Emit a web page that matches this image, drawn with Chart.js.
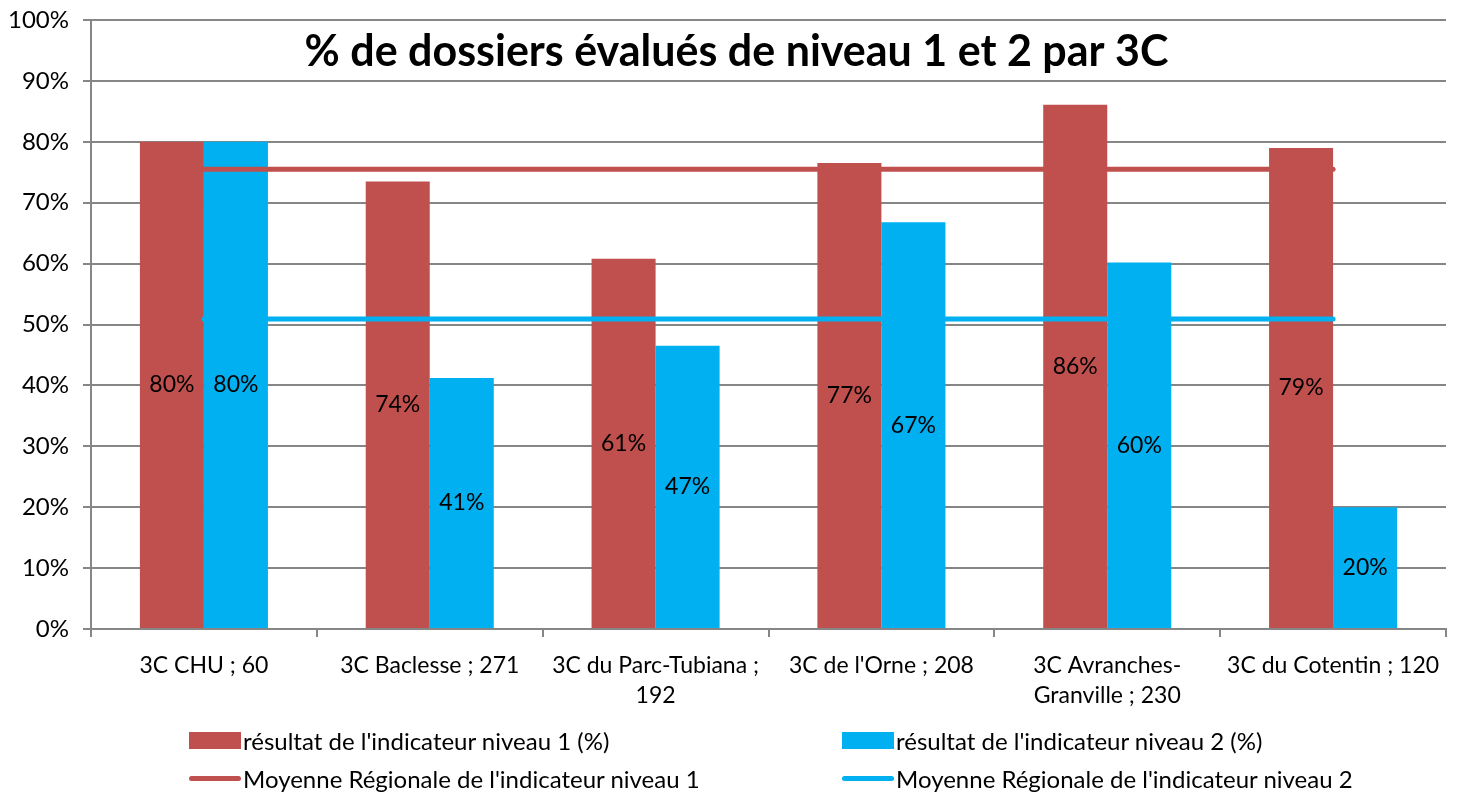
<!DOCTYPE html>
<html>
<head>
<meta charset="utf-8">
<script src="https://cdn.jsdelivr.net/npm/chart.js@4"></script>
<style>
  html, body { margin: 0; padding: 0; background: #fff; }
  #wrap { position: relative; width: 1459px; height: 793px; }
  #legend { position: absolute; left: 0; top: 726px; width: 1459px; font-family: Lato, "Open Sans", sans-serif; font-size: 24px; color: #000; }
  .item { position: absolute; display: flex; align-items: center; white-space: nowrap; }
  .box { width: 52px; height: 17px; margin-right: 2px; }
  .ln { width: 52px; height: 5px; border-radius: 3px; margin-right: 2px; }
</style>
</head>
<body>
<div id="wrap">
  <canvas id="c" width="1459" height="793"></canvas>
  <div id="legend"></div>
</div>
<script>
  const categories = [
    "3C CHU ; 60",
    "3C Baclesse ; 271",
    ["3C du Parc-Tubiana ;", "192"],
    "3C de l'Orne ; 208",
    ["3C Avranches-", "Granville ; 230"],
    "3C du Cotentin ; 120"
  ];
  const niveau1 = [80.0, 73.5, 60.8, 76.5, 86.1, 79.0];
  const niveau2 = [80.0, 41.2, 46.5, 66.8, 60.2, 20.0];
  const moyenne1 = [75.5, 75.5, 75.5, 75.5, 75.5, 75.5];
  const moyenne2 = [50.9, 50.9, 50.9, 50.9, 50.9, 50.9];
  const yTicks = [0, 10, 20, 30, 40, 50, 60, 70, 80, 90, 100];
  const titleText = "% de dossiers évalués de niveau 1 et 2 par 3C";

  const RED = "#C0504D";
  const BLUE = "#00B0F0";
  const GRID = "#868686";
  const FONT = "Lato, 'Open Sans', sans-serif";

  // value labels centred in each bar
  const barLabels = {
    id: "barLabels",
    afterDatasetsDraw(chart) {
      const ctx = chart.ctx;
      ctx.save();
      ctx.font = "23px " + FONT;
      ctx.fillStyle = "#000";
      ctx.textAlign = "center";
      ctx.textBaseline = "middle";
      chart.data.datasets.forEach((ds, i) => {
        if (ds.type !== "bar") return;
        chart.getDatasetMeta(i).data.forEach((bar, j) => {
          ctx.fillText(Math.round(ds.data[j]) + "%", bar.x, (bar.y + bar.base) / 2);
        });
      });
      ctx.restore();
    }
  };

  // title drawn inside the plot area
  const innerTitle = {
    id: "innerTitle",
    afterDraw(chart) {
      const ctx = chart.ctx;
      const a = chart.chartArea;
      ctx.save();
      ctx.font = "bold 43px " + FONT;
      ctx.fillStyle = "#000";
      ctx.textAlign = "center";
      ctx.textBaseline = "middle";
      ctx.fillText(titleText, (a.left + a.right) / 2 - 32, a.top + 32);
      ctx.restore();
    }
  };

  new Chart(document.getElementById("c"), {
    data: {
      labels: categories,
      datasets: [
        { type: "line", label: "Moyenne Régionale de l'indicateur niveau 1", data: moyenne1,
          borderColor: RED, borderWidth: 5, pointRadius: 0, borderCapStyle: "round", order: 0 },
        { type: "line", label: "Moyenne Régionale de l'indicateur niveau 2", data: moyenne2,
          borderColor: BLUE, borderWidth: 5, pointRadius: 0, borderCapStyle: "round", order: 0 },
        { type: "bar", label: "résultat de l'indicateur niveau 1 (%)", data: niveau1,
          backgroundColor: RED, order: 1 },
        { type: "bar", label: "résultat de l'indicateur niveau 2 (%)", data: niveau2,
          backgroundColor: BLUE, order: 1 }
      ]
    },
    options: {
      responsive: false,
      animation: false,
      layout: { padding: { top: 20, right: 13, left: 0, bottom: 64 } },
      datasets: { bar: { categoryPercentage: 0.567, barPercentage: 1 } },
      plugins: {
        legend: { display: false },
        tooltip: { enabled: false }
      },
      scales: {
        x: {
          offset: true,
          grid: { offset: true, drawOnChartArea: false, drawTicks: true, tickLength: 8, color: GRID, lineWidth: 2 },
          border: { color: GRID, width: 2 },
          ticks: { color: "#000", font: { family: FONT, size: 23, lineHeight: 1.3 }, padding: 14, maxRotation: 0, autoSkip: false },
          afterFit(scale) { scale.height = 100; }
        },
        y: {
          min: 0, max: 100,
          afterBuildTicks(scale) { scale.ticks = yTicks.map(v => ({ value: v })); },
          grid: { color: GRID, lineWidth: 2, tickLength: 8 },
          border: { color: GRID, width: 2 },
          ticks: { color: "#000", font: { family: FONT, size: 24, lineHeight: 0.5 }, padding: 14, callback: v => v + "%" },
          afterFit(scale) { scale.width = 91; scale.paddingTop = 0; scale.paddingBottom = 0; }
        }
      }
    },
    plugins: [barLabels, innerTitle]
  });

  // legend, two columns like the original
  const legendItems = [
    { kind: "box", color: RED, text: "résultat de l'indicateur niveau 1 (%)", left: 189, top: 0 },
    { kind: "box", color: BLUE, text: "résultat de l'indicateur niveau 2 (%)", left: 842, top: 0 },
    { kind: "ln", color: RED, text: "Moyenne Régionale de l'indicateur niveau 1", left: 189, top: 38 },
    { kind: "ln", color: BLUE, text: "Moyenne Régionale de l'indicateur niveau 2", left: 842, top: 38 }
  ];
  const leg = document.getElementById("legend");
  legendItems.forEach(it => {
    const d = document.createElement("div");
    d.className = "item";
    d.style.left = it.left + "px";
    d.style.top = it.top + "px";
    const sw = document.createElement("span");
    sw.className = it.kind;
    sw.style.background = it.color;
    const t = document.createElement("span");
    t.textContent = it.text;
    d.appendChild(sw);
    d.appendChild(t);
    leg.appendChild(d);
  });
</script>
</body>
</html>
